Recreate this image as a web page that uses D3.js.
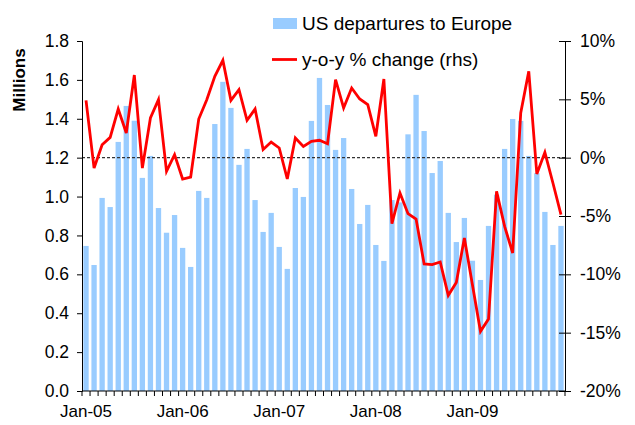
<!DOCTYPE html>
<html>
<head>
<meta charset="utf-8">
<script src="https://cdn.jsdelivr.net/npm/d3@7/dist/d3.min.js"></script>
<style>
  html, body { margin: 0; padding: 0; background: #fff; }
  svg { display: block; font-family: "Liberation Sans", Arial, sans-serif; }
</style>
</head>
<body>
<svg id="chart" width="635" height="425"></svg>
<script>
// ---- Data (monthly, Jan-05 .. Dec-09) ----
const years = ["05", "06", "07", "08", "09"];
const monthNames = ["Jan","Feb","Mar","Apr","May","Jun","Jul","Aug","Sep","Oct","Nov","Dec"];
const months = years.flatMap(y => monthNames.map(m => m + "-" + y));

const departures = [
  0.746, 0.648, 0.993, 0.946, 1.281, 1.466, 1.390, 1.096, 1.209, 0.941, 0.814, 0.905,
  0.736, 0.638, 1.029, 0.993, 1.373, 1.590, 1.456, 1.163, 1.245, 0.982, 0.818, 0.916,
  0.741, 0.628, 1.044, 0.998, 1.389, 1.610, 1.471, 1.240, 1.301, 1.039, 0.859, 0.957,
  0.751, 0.669, 0.982, 0.970, 1.320, 1.523, 1.337, 1.121, 1.183, 0.916, 0.766, 0.890,
  0.670, 0.571, 0.849, 1.010, 1.245, 1.399, 1.389, 1.209, 1.120, 0.921, 0.751, 0.849
];

const yoyChange = [
  4.91, -0.89, 1.11, 1.74, 4.17, 2.11, 7.08, -0.89, 3.40, 4.97, -1.17, 0.26,
  -1.83, -1.66, 3.31, 4.97, 6.97, 8.34, 4.91, 5.83, 3.20, 4.17, 0.69, 1.34,
  0.83, -1.83, 1.69, 0.97, 1.40, 1.49, 1.20, 6.69, 4.26, 5.97, 5.03, 4.54,
  1.83, 6.74, -5.66, -3.03, -4.80, -5.26, -9.11, -9.17, -8.94, -11.80, -10.69, -6.88,
  -10.89, -14.89, -13.83, -2.89, -5.89, -8.17, 3.83, 7.40, -1.40, 0.46, -2.17, -4.89
];

const leftTicks = [0, 0.2, 0.4, 0.6, 0.8, 1.0, 1.2, 1.4, 1.6, 1.8];
const rightTicks = [-20, -15, -10, -5, 0, 5, 10];
const xLabels = ["Jan-05", "Jan-06", "Jan-07", "Jan-08", "Jan-09"];

const seriesNames = ["US departures to Europe", "y-o-y % change (rhs)"];

// ---- Layout ----
const svg = d3.select("#chart");
const plot = { left: 82, right: 565, top: 41, bottom: 391 };
const FONT = "Liberation Sans, Arial, sans-serif";

const x = d3.scaleBand().domain(months).range([plot.left, plot.right]).paddingInner(0.34).paddingOuter(0.17);
const yL = d3.scaleLinear().domain([0, 1.8]).range([plot.bottom, plot.top]);
const yR = d3.scaleLinear().domain([-20, 10]).range([plot.bottom, plot.top]);

// Bars
svg.append("g").selectAll("rect").data(months).join("rect")
  .attr("x", d => x(d))
  .attr("y", (d, i) => yL(departures[i]))
  .attr("width", x.bandwidth())
  .attr("height", (d, i) => plot.bottom - yL(departures[i]))
  .attr("fill", "#99CCFF");

// Zero dashed line (rhs)
svg.append("line")
  .attr("x1", plot.left).attr("x2", plot.right)
  .attr("y1", yR(0)).attr("y2", yR(0))
  .attr("stroke", "#333").attr("stroke-width", 1.2)
  .attr("stroke-dasharray", "3,2");

// Line
const cx = d => x(d) + x.bandwidth() / 2;
svg.append("path")
  .datum(months)
  .attr("fill", "none")
  .attr("stroke", "#FF0000")
  .attr("stroke-width", 2.8)
  .attr("stroke-linejoin", "miter")
  .attr("d", d3.line().x(d => cx(d)).y((d, i) => yR(yoyChange[i])));

// Left axis
const leftAxis = svg.append("g").attr("transform", `translate(${plot.left},0)`)
  .call(d3.axisLeft(yL).tickValues(leftTicks).tickFormat(d3.format(".1f")).tickSize(5).tickPadding(8));
leftAxis.selectAll("text").attr("font-size", 17.5).attr("fill", "#000").style("font-family", FONT);
leftAxis.selectAll("line, path").attr("stroke", "#000");

// Right axis (cross ticks)
const rightAxis = svg.append("g").attr("transform", `translate(${plot.right},0)`)
  .call(d3.axisRight(yR).tickValues(rightTicks).tickFormat(d => d + "%").tickSize(6).tickPadding(9));
rightAxis.selectAll(".tick line").attr("x1", -6);
rightAxis.selectAll("text").attr("font-size", 17.5).attr("fill", "#000").style("font-family", FONT);
rightAxis.selectAll("line, path").attr("stroke", "#000");

// Bottom axis: ticks at month boundaries, labels at Jan months
const bottom = svg.append("g");
bottom.append("line").attr("x1", plot.left).attr("x2", plot.right)
  .attr("y1", plot.bottom).attr("y2", plot.bottom).attr("stroke", "#000");
const boundaries = d3.range(months.length + 1).map(i => plot.left + i * (plot.right - plot.left) / months.length);
bottom.selectAll("line.tk").data(boundaries).join("line").attr("class", "tk")
  .attr("x1", d => d).attr("x2", d => d)
  .attr("y1", plot.bottom).attr("y2", plot.bottom + 5)
  .attr("stroke", "#000");
bottom.selectAll("text").data(xLabels).join("text")
  .attr("x", d => cx(d))
  .attr("y", 417)
  .attr("text-anchor", "middle")
  .attr("font-size", 17)
  .attr("fill", "#000")
  .text(d => d);

// Y label
svg.append("text")
  .attr("transform", "translate(25,80) rotate(-90)")
  .attr("text-anchor", "middle")
  .attr("font-size", 17)
  .attr("font-weight", "bold")
  .attr("fill", "#000")
  .text("Millions");

// Legend
const lg = svg.append("g");
lg.append("rect").attr("x", 273).attr("y", 18).attr("width", 24).attr("height", 11).attr("fill", "#99CCFF");
lg.append("text").attr("x", 302).attr("y", 30).attr("font-size", 19).attr("fill", "#000").text(seriesNames[0]);
lg.append("line").attr("x1", 272).attr("x2", 297).attr("y1", 59.5).attr("y2", 59.5)
  .attr("stroke", "#FF0000").attr("stroke-width", 2.8);
lg.append("text").attr("x", 302).attr("y", 66).attr("font-size", 19).attr("fill", "#000").text(seriesNames[1]);
</script>
</body>
</html>
